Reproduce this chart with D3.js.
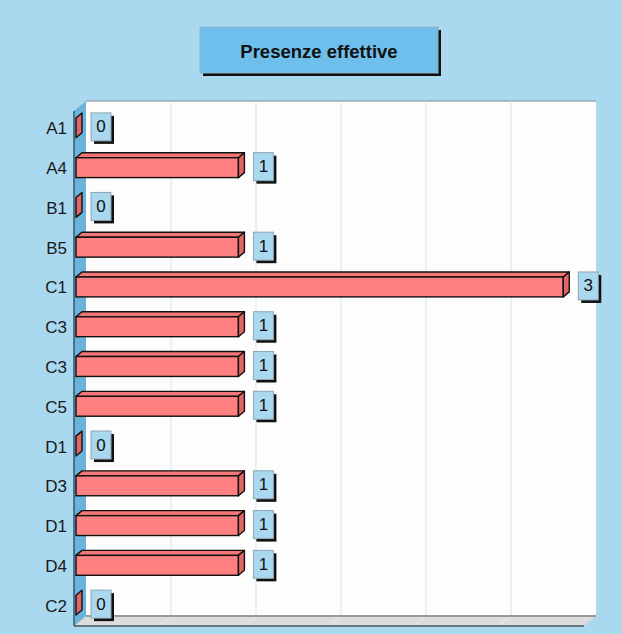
<!DOCTYPE html>
<html>
<head>
<meta charset="utf-8">
<script src="https://d3js.org/d3.v7.min.js"></script>
<style>
  body { margin: 0; background: #a9d8ef; }
  svg { display: block; font-family: "Liberation Sans", Arial, sans-serif; }
</style>
</head>
<body>
<div id="chart"></div>
<script>
var categories = ["A1", "A4", "B1", "B5", "C1", "C3", "C3", "C5", "D1", "D3", "D1", "D4", "C2"];
var values = [0, 1, 0, 1, 3, 1, 1, 1, 0, 1, 1, 1, 0];
var title = "Presenze effettive";
var axisMax = 3.14;
var gridCount = 6;

var width = 622, height = 634;
var wallDx = 12, wallDy = 10;   // depth of the walls
var barDx = 6, barDy = 5;       // depth of the bars

var svg = d3.select("#chart").append("svg")
    .attr("width", width)
    .attr("height", height);

svg.append("rect").attr("width", width).attr("height", height).attr("fill", "#a9d8ef");

// front plane scales
var x = d3.scaleLinear().domain([0, axisMax]).range([76, 586]);
var y = d3.scaleBand()
    .domain(d3.range(categories.length))
    .range([108, 625])
    .paddingInner(0.5)
    .paddingOuter(0.25);

var plotL = 74, plotR = 584, plotB = 626, plotT = 111;

// back wall
svg.append("rect")
    .attr("x", plotL + wallDx).attr("y", plotT - wallDy)
    .attr("width", plotR - plotL).attr("height", plotB - plotT)
    .attr("fill", "#fdfdfd");
svg.append("line")
    .attr("x1", plotL + wallDx).attr("x2", plotR + wallDx)
    .attr("y1", plotT - wallDy).attr("y2", plotT - wallDy)
    .style("stroke", "#9aa7b0").style("stroke-width", 1.5);

// grid lines
var gridVals = d3.range(1, gridCount).map(function (i) { return axisMax * i / gridCount; });
svg.selectAll("line.grid")
    .data(gridVals)
    .enter().append("line")
    .attr("class", "grid")
    .attr("x1", function (d) { return x(d) + wallDx - 2; })
    .attr("x2", function (d) { return x(d) + wallDx - 2; })
    .attr("y1", plotT - wallDy)
    .attr("y2", plotB - wallDy)
    .style("stroke", "#cfe4ee").style("stroke-width", 1);

// floor
svg.append("path")
    .attr("d", "M" + plotL + "," + plotB + "L" + (plotL + wallDx) + "," + (plotB - wallDy) +
        "L" + (plotR + wallDx) + "," + (plotB - wallDy) + "L" + plotR + "," + plotB + "Z")
    .attr("fill", "#dcdcdc");
svg.selectAll("line.floorgrid")
    .data(gridVals)
    .enter().append("line")
    .attr("class", "floorgrid")
    .attr("x1", function (d) { return x(d) + wallDx - 2; })
    .attr("x2", function (d) { return x(d) - 2; })
    .attr("y1", plotB - wallDy)
    .attr("y2", plotB)
    .style("stroke", "#eeeeee").style("stroke-width", 1);
svg.append("line")
    .attr("x1", plotL + wallDx).attr("x2", plotR + wallDx)
    .attr("y1", plotB - wallDy).attr("y2", plotB - wallDy)
    .style("stroke", "#9a9a9a").style("stroke-width", 2);
svg.append("line")
    .attr("x1", plotL).attr("x2", plotR)
    .attr("y1", plotB).attr("y2", plotB)
    .style("stroke", "#4a5560").style("stroke-width", 1.5);

// left wall
svg.append("path")
    .attr("d", "M" + plotL + "," + plotT + "L" + (plotL + wallDx) + "," + (plotT - wallDy) +
        "L" + (plotL + wallDx) + "," + (plotB - wallDy) + "L" + plotL + "," + plotB + "Z")
    .attr("fill", "#6cb3dc");
svg.append("line")
    .attr("x1", plotL).attr("x2", plotL)
    .attr("y1", plotT).attr("y2", plotB)
    .style("stroke", "#2f5870").style("stroke-width", 1.5);

// bars
var bars = svg.selectAll("g.bar")
    .data(values)
    .enter().append("g")
    .attr("class", "bar");

bars.each(function (d, i) {
    var g = d3.select(this);
    var x0 = x(0), x1 = x(d), y0 = y(i), h = y.bandwidth();
    if (d > 0) {
        g.append("path")
            .attr("d", "M" + x0 + "," + y0 + "L" + (x0 + barDx) + "," + (y0 - barDy) +
                "L" + (x1 + barDx) + "," + (y0 - barDy) + "L" + x1 + "," + y0 + "Z")
            .attr("fill", "#f47777").attr("stroke", "#111").attr("stroke-width", 1.4)
            .attr("stroke-linejoin", "round");
        g.append("rect")
            .attr("x", x0).attr("y", y0).attr("width", x1 - x0).attr("height", h)
            .attr("fill", "#ff8080").attr("stroke", "#111").attr("stroke-width", 1.4);
    }
    g.append("path")
        .attr("d", "M" + x1 + "," + y0 + "L" + (x1 + barDx) + "," + (y0 - barDy) +
            "L" + (x1 + barDx) + "," + (y0 + h - barDy) + "L" + x1 + "," + (y0 + h) + "Z")
        .attr("fill", "#e06565").attr("stroke", "#111").attr("stroke-width", 1.4)
        .attr("stroke-linejoin", "round");

    // value label box
    var bx = x1 + 15, by = y0 + h / 2 - 15;
    g.append("rect")
        .attr("x", bx + 3).attr("y", by + 3).attr("width", 20).attr("height", 28)
        .attr("fill", "#111");
    g.append("rect")
        .attr("x", bx).attr("y", by).attr("width", 20).attr("height", 28)
        .attr("fill", "#a9d8ef").attr("stroke", "#8fa6b4").attr("stroke-width", 1);
    g.append("text")
        .attr("x", bx + 10).attr("y", by + 14)
        .attr("text-anchor", "middle").attr("dominant-baseline", "central")
        .attr("font-size", 17).attr("fill", "#111")
        .text(d);
});

// category labels
svg.selectAll("text.cat")
    .data(categories)
    .enter().append("text")
    .attr("class", "cat")
    .attr("x", 67)
    .attr("y", function (d, i) { return y(i) + y.bandwidth() / 2 + 1; })
    .attr("text-anchor", "end").attr("dominant-baseline", "central")
    .attr("font-size", 17).attr("fill", "#1a1a1a")
    .text(function (d) { return d; });

// title box
svg.append("rect").attr("x", 203).attr("y", 30).attr("width", 238).attr("height", 46).attr("fill", "#111");
svg.append("rect").attr("x", 200).attr("y", 27).attr("width", 238).attr("height", 46)
    .attr("fill", "#6ebfec").attr("stroke", "#8fb5cc").attr("stroke-width", 1);
svg.append("text")
    .attr("x", 319).attr("y", 51)
    .attr("text-anchor", "middle").attr("dominant-baseline", "central")
    .attr("font-size", 18.5).attr("font-weight", "bold").attr("fill", "#111")
    .text(title);
</script>
</body>
</html>
